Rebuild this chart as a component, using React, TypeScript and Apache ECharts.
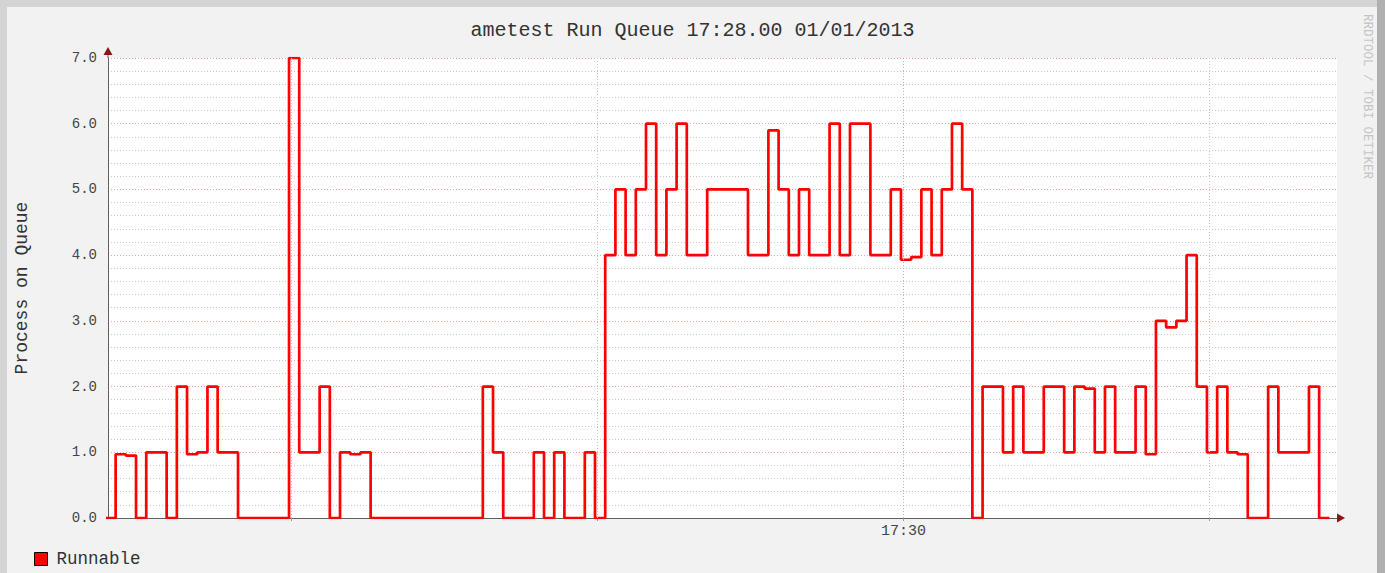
import React, { useEffect, useRef } from "react";
import * as echarts from "echarts";

// Runnable run-queue length, one value per 2-second step (first value is the step before the chart starts)
const runnable: number[] = [
  0,
  0.97, 0.95, 0, 1, 1, 0, 2, 0.97, 1, 2, 1, 1,
  0, 0, 0, 0, 0,
  7, 1, 1, 2, 0, 1, 0.97, 1,
  0, 0, 0, 0, 0, 0, 0, 0, 0, 0, 0,
  2, 1, 0, 0, 0, 1, 0, 1, 0, 0, 1, 0,
  4, 5, 4, 5, 6, 4, 5, 6, 4, 4, 5, 5, 5, 5, 4, 4,
  5.9, 5, 4, 5, 4, 4, 6, 4, 6, 6, 4, 4, 5, 3.93, 3.97, 5, 4, 5, 6, 5,
  0, 2, 2, 1, 2, 1, 1, 2, 2, 1, 2, 1.97, 1, 2, 1, 1, 2, 0.97,
  3, 2.9, 3, 4, 2, 1, 2, 1, 0.97, 0, 0, 2, 1, 1, 1, 2, 0,
];
// time axis in seconds since 17:27:00
const startSec = 23.5;
const stepSec = 2;
const axisMinSec = 24;
const axisMaxSec = 265;
const majorTimes = [180];
const minorTimes = [60, 120, 240];
const timeLabels: Record<number, string> = { 180: "17:30" };
const yTicks = [0, 1, 2, 3, 4, 5, 6, 7];

const titleText = "ametest Run Queue 17:28.00 01/01/2013";
const seriesName = "Runnable";
const yName = "Process on Queue";
const watermark = "RRDTOOL / TOBI OETIKER";

const MONO = "'Liberation Mono', 'DejaVu Sans Mono', monospace";

export default function App() {
  const ref = useRef<HTMLDivElement>(null);
  useEffect(() => {
    document.body.style.margin = "0";
    if (!ref.current) return;
    const chart = echarts.init(ref.current, undefined, { renderer: "svg" });
    const pts: [number, number][] = runnable.map((v, i) => [startSec + stepSec * i, v]);
    pts.push([startSec + stepSec * runnable.length, runnable[runnable.length - 1]]);

    const gl = 108, gt = 58, gr = 48, gb = 55;
    const W = 1385, H = 573;
    const x0 = gl, y0 = H - gb, x1 = W - gr, yTop = gt;
    const arrowColor = "#8a1515";
    const axisColor = "#606060";

    chart.setOption({
      animation: false,
      backgroundColor: "#f2f2f2",
      title: {
        text: titleText,
        left: "center",
        top: 15,
        textStyle: { fontFamily: MONO, fontSize: 20, fontWeight: "normal", color: "#333" },
      },
      legend: {
        left: 29,
        top: 545,
        itemWidth: 13,
        itemHeight: 13,
        icon: "rect",
        itemStyle: { borderColor: "#000", borderWidth: 1 },
        textStyle: { fontFamily: MONO, fontSize: 17.5, color: "#333", padding: [0, 0, 0, 4] },
        data: [seriesName],
      },
      grid: {
        left: gl,
        top: gt,
        right: gr,
        bottom: gb,
        show: true,
        backgroundColor: "#ffffff",
        borderWidth: 0,
      },
      xAxis: {
        type: "value",
        min: axisMinSec,
        max: axisMaxSec,
        axisLine: { show: true, onZero: false, lineStyle: { color: axisColor, width: 1 } },
        axisTick: {
          show: true,
          customValues: [...minorTimes, ...majorTimes],
          length: 3,
          inside: false,
          lineStyle: { color: "#999" },
        },
        axisLabel: {
          show: true,
          customValues: majorTimes,
          formatter: (v: number) => timeLabels[v] ?? "",
          fontFamily: MONO,
          fontSize: 15,
          color: "#444",
          margin: 6,
        },
        splitLine: { show: false },
      },
      yAxis: {
        type: "value",
        min: yTicks[0],
        max: yTicks[yTicks.length - 1],
        interval: 1,
        name: yName,
        nameLocation: "middle",
        nameGap: 77,
        nameTextStyle: { fontFamily: MONO, fontSize: 18, color: "#333" },
        axisLine: { show: true, lineStyle: { color: axisColor, width: 1 } },
        axisTick: { show: false },
        axisLabel: {
          formatter: (v: number) => v.toFixed(1),
          fontFamily: MONO,
          fontSize: 14,
          color: "#444",
          margin: 11,
        },
        splitLine: { show: true, lineStyle: { color: "#f2a0a0", type: [1, 2], width: 1 } },
        minorTick: { show: false, splitNumber: 5 },
        minorSplitLine: { show: true, lineStyle: { color: "#c8c8c8", type: [1, 2], width: 1 } },
      },
      series: [
        {
          type: "line",
          data: [],
          silent: true,
          z: 1,
          markLine: {
            silent: true,
            symbol: "none",
            label: { show: false },
            data: [
              ...minorTimes.map((t) => ({ xAxis: t, lineStyle: { color: "#c8c8c8", type: [1, 2], width: 1 } })),
              ...majorTimes.map((t) => ({ xAxis: t, lineStyle: { color: "#f2a0a0", type: [1, 2], width: 1 } })),
            ],
          },
        },
        {
          name: seriesName,
          type: "line",
          step: "end",
          data: pts,
          showSymbol: false,
          z: 3,
          itemStyle: { color: "#ff0000" },
          lineStyle: { color: "#ff0000", width: 2.7 },
        },
      ],
      graphic: [
        { type: "rect", shape: { x: 0, y: 0, width: W, height: 7 }, style: { fill: "#d4d4d4" }, silent: true },
        { type: "rect", shape: { x: 0, y: 0, width: 7, height: H }, style: { fill: "#d4d4d4" }, silent: true },
        { type: "rect", shape: { x: W - 8, y: 0, width: 8, height: H }, style: { fill: "#b0b0b0" }, silent: true },
        { type: "line", shape: { x1: x0, y1: yTop, x2: x0, y2: yTop - 4 }, style: { stroke: axisColor, lineWidth: 1 }, silent: true },
        {
          type: "polygon",
          shape: { points: [[x0 - 4.5, yTop - 3], [x0 + 4.5, yTop - 3], [x0, yTop - 11]] },
          style: { fill: arrowColor },
          silent: true,
          z: 10,
        },
        {
          type: "polygon",
          shape: { points: [[x1, y0 - 4.5], [x1, y0 + 4.5], [x1 + 8, y0]] },
          style: { fill: arrowColor },
          silent: true,
          z: 10,
        },
        {
          type: "text",
          x: 1367,
          y: 14,
          rotation: -Math.PI / 2,
          style: {
            text: watermark,
            fontFamily: MONO,
            fontSize: 12.5,
            fill: "#c4c4c4",
            align: "left",
            verticalAlign: "middle",
          },
          silent: true,
        },
      ],
    });
    return () => chart.dispose();
  }, []);
  return <div ref={ref} style={{ width: 1385, height: 573 }} />;
}
